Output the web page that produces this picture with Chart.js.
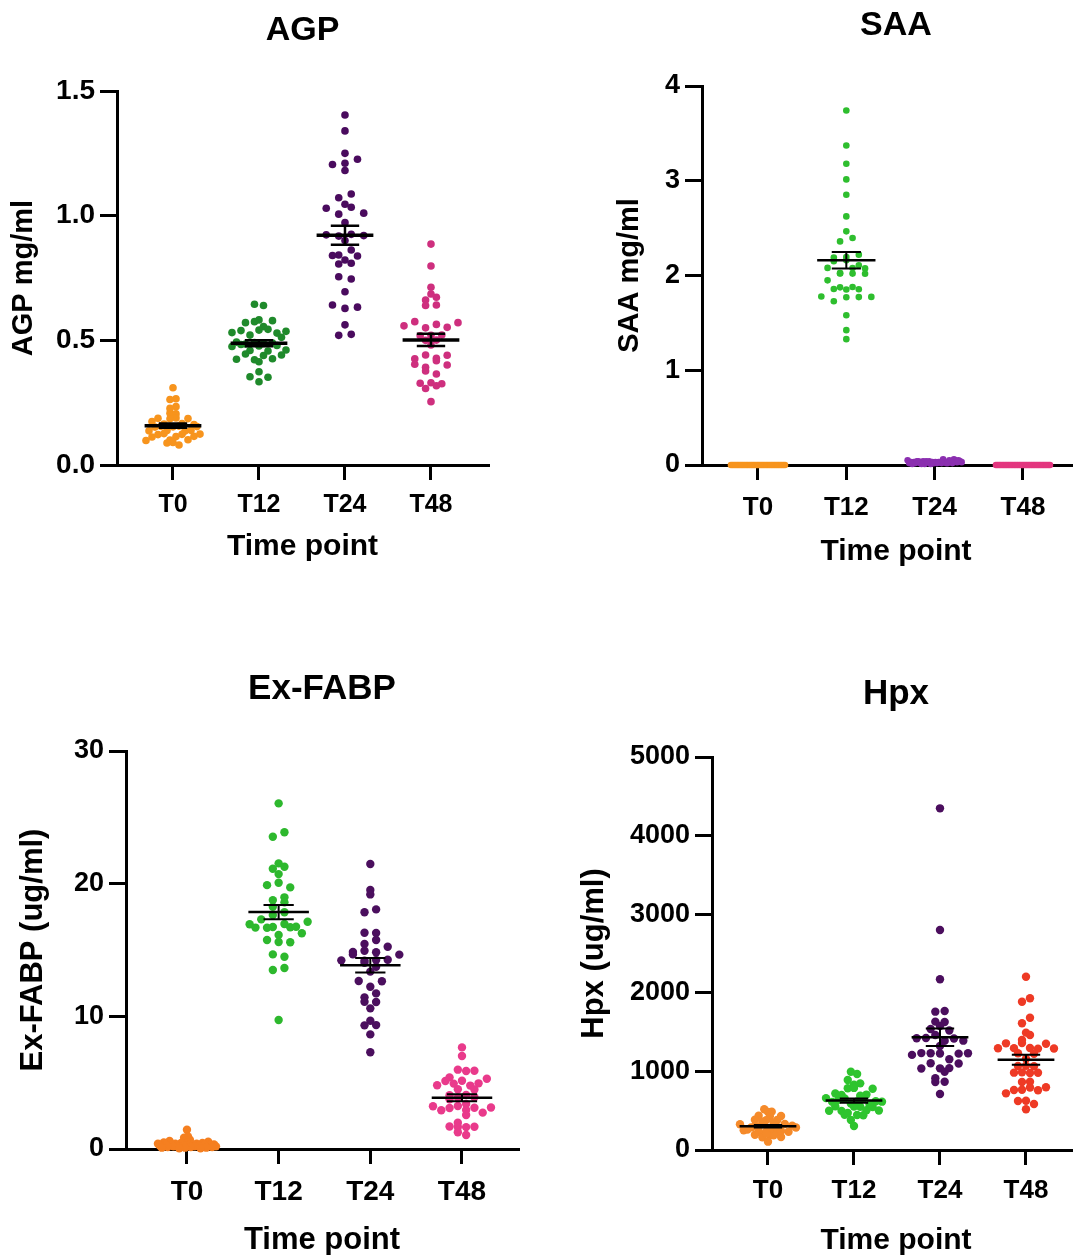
<!DOCTYPE html>
<html>
<head>
<meta charset="utf-8">
<script src="https://cdn.jsdelivr.net/npm/chart.js@4.4.1/dist/chart.umd.min.js"></script>
<style>
  html, body { margin: 0; padding: 0; background: #fff; overflow: hidden; width: 1073px; height: 1255px; }
  canvas { position: absolute; }
</style>
</head>
<body>
<canvas id="agp"></canvas>
<canvas id="saa"></canvas>
<canvas id="fabp"></canvas>
<canvas id="hpx"></canvas>
<script>
const timePoints = ['T0', 'T12', 'T24', 'T48'];

// AGP mg/ml
const agpT0 = [0.31, 0.266, 0.263, 0.234, 0.227, 0.208, 0.205, 0.189, 0.187, 0.186, 0.185, 0.174, 0.166, 0.164, 0.162,
  0.156, 0.155, 0.154, 0.153, 0.152, 0.139, 0.138, 0.137, 0.136, 0.126, 0.124, 0.123, 0.122, 0.115, 0.114, 0.112,
  0.101, 0.1, 0.098, 0.09, 0.088, 0.08];
const agpT12 = [0.645, 0.64, 0.582, 0.579, 0.575, 0.571, 0.555, 0.544, 0.539, 0.536, 0.541, 0.531, 0.529, 0.521, 0.512,
  0.491, 0.493, 0.489, 0.485, 0.483, 0.487, 0.477, 0.475, 0.479, 0.459, 0.461, 0.457, 0.445, 0.441, 0.439,
  0.424, 0.426, 0.422, 0.414, 0.374, 0.354, 0.352, 0.334];
const agpT24 = [1.404, 1.34, 1.25, 1.226, 1.21, 1.205, 1.181, 1.087, 1.072, 1.046, 1.034, 1.03, 1.01, 1.006, 0.972,
  0.925, 0.923, 0.92, 0.918, 0.9, 0.862, 0.842, 0.84, 0.838, 0.822, 0.809, 0.806, 0.755, 0.746, 0.695,
  0.642, 0.633, 0.628, 0.562, 0.524, 0.52];
const agpT48 = [0.886, 0.798, 0.713, 0.686, 0.673, 0.662, 0.642, 0.64, 0.575, 0.571, 0.564, 0.558, 0.552, 0.55, 0.521,
  0.52, 0.518, 0.501, 0.481, 0.441, 0.44, 0.428, 0.426, 0.418, 0.404, 0.401, 0.392, 0.377, 0.365, 0.33,
  0.328, 0.326, 0.318, 0.307, 0.254, 0.5];
const agpTicks = [0, 0.5, 1.0, 1.5];

// SAA mg/ml
const saaT0 = [0, 0, 0, 0, 0, 0, 0, 0, 0, 0, 0, 0, 0, 0, 0, 0, 0, 0, 0, 0, 0, 0, 0, 0, 0, 0, 0, 0, 0, 0, 0, 0, 0, 0, 0, 0];
const saaT12 = [3.741, 3.372, 3.179, 3.014, 2.852, 2.624, 2.466, 2.396, 2.36, 2.22, 2.195, 2.19, 2.16, 2.15, 2.107,
  2.079, 2.08, 2.075, 2.02, 2.022, 2.018, 2.025, 1.949, 1.879, 1.875, 1.855, 1.852, 1.858, 1.774, 1.77,
  1.778, 1.772, 1.728, 1.581, 1.423, 1.328];
const saaT24 = [0.05, 0.06, 0.04, 0.05, 0.03, 0.04, 0.06, 0.02, 0.03, 0.05, 0.04, 0.02, 0.03, 0.01, 0.04, 0.03, 0.02, 0.05,
  0.03, 0.02, 0.04, 0.01, 0.03, 0.02, 0.04, 0.03, 0.02, 0.01, 0.03, 0.02, 0.04, 0.02, 0.03, 0.01, 0.02, 0.03];
const saaT48 = [0, 0, 0, 0, 0, 0, 0, 0, 0, 0, 0, 0, 0, 0, 0, 0, 0, 0, 0, 0, 0, 0, 0, 0, 0, 0, 0, 0, 0, 0, 0, 0, 0, 0, 0, 0];
const saaTicks = [0, 1, 2, 3, 4];

// Ex-FABP ug/ml
const fabpT0 = [1.45, 0.95, 0.85, 0.7, 0.65, 0.6, 0.55, 0.5, 0.5, 0.45, 0.45, 0.4, 0.4, 0.4, 0.35, 0.35, 0.35, 0.3,
  0.3, 0.3, 0.3, 0.25, 0.25, 0.25, 0.2, 0.2, 0.2, 0.2, 0.15, 0.15, 0.15, 0.1, 0.1, 0.1, 0.05, 0.05];
const fabpT12 = [26.05, 23.87, 23.54, 21.53, 21.27, 21.12, 20.72, 20.07, 19.89, 19.72, 18.97, 18.76, 18.59, 18.26,
  17.84, 17.63, 17.31, 17.13, 16.96, 16.94, 16.71, 16.73, 16.69, 16.75, 16.68, 16.26, 16.13, 15.75, 15.58, 15.6,
  14.67, 14.49, 13.64, 13.49, 9.72];
const fabpT24 = [21.48, 19.52, 19.19, 18.06, 17.84, 16.3, 16.28, 15.75, 15.45, 15.25, 14.94, 14.85, 14.83, 14.67,
  14.65, 14.24, 14.22, 14.26, 14.2, 14.04, 13.74, 13.37, 12.66, 12.64, 12.23, 11.73, 11.43, 11.1, 11.08, 10.6,
  9.67, 9.34, 9.32, 8.64, 7.29];
const fabpT48 = [7.66, 7.01, 5.98, 5.9, 5.88, 5.4, 5.3, 5.15, 5.13, 4.95, 4.93, 4.8, 4.78, 4.5, 4.48, 4.07, 4.05, 3.9,
  3.88, 3.75, 3.39, 3.24, 3.22, 3.11, 3.09, 3.13, 2.94, 2.92, 2.74, 2.56, 1.98, 1.68, 1.66, 1.7, 1.65, 1.26, 1.06];
const fabpTicks = [0, 10, 20, 30];

// Hpx ug/ml
const hpxT0 = [518, 488, 485, 433, 430, 436, 382, 380, 385, 331, 333, 328, 289, 292, 286, 290, 288, 233, 236, 230,
  232, 191, 194, 188, 162, 165, 106, 300, 310, 270, 260, 350, 360, 250, 240, 210];
const hpxT12 = [996, 967, 891, 848, 830, 785, 780, 790, 700, 705, 657, 660, 655, 640, 615, 618, 612, 620, 551, 555,
  548, 553, 500, 505, 498, 502, 445, 448, 442, 382, 305, 580, 590, 720, 690, 470];
const hpxT24 = [4347, 2799, 2172, 1768, 1760, 1633, 1628, 1578, 1540, 1520, 1463, 1421, 1418, 1425, 1391, 1388, 1323,
  1230, 1228, 1233, 1226, 1231, 1210, 1154, 1103, 1100, 1039, 1036, 1042, 996, 912, 869, 866, 712];
const hpxT48 = [2205, 1930, 1887, 1683, 1612, 1493, 1463, 1399, 1357, 1352, 1360, 1294, 1290, 1296, 1292, 1298, 1230,
  1225, 1160, 1069, 1066, 1072, 984, 980, 988, 982, 869, 866, 798, 795, 763, 760, 766, 721, 627, 624, 585, 518];
const hpxTicks = [0, 1000, 2000, 3000, 4000, 5000];

const FONT = "'Liberation Sans', Arial, Helvetica, sans-serif";
Chart.defaults.font.family = FONT;
Chart.defaults.color = '#000';

// mean with SEM error bar, drawn on top of the dots
const meanSemPlugin = {
  id: 'meanSem',
  afterDatasetsDraw(chart, args, opts) {
    const ctx = chart.ctx;
    const xs = chart.scales.x, ys = chart.scales.y;
    ctx.save();
    ctx.strokeStyle = '#000';
    ctx.lineCap = 'butt';
    chart.data.datasets.forEach((ds, i) => {
      if (!opts.show[i]) return;
      const v = ds.values;
      const n = v.length;
      const mean = v.reduce((a, b) => a + b, 0) / n;
      const sd = Math.sqrt(v.reduce((a, b) => a + (b - mean) * (b - mean), 0) / (n - 1));
      const sem = sd / Math.sqrt(n);
      const cx = xs.getPixelForValue(i);
      const half = xs.getPixelForValue(i + 0.33) - cx;
      const cap = xs.getPixelForValue(i + 0.165) - cx;
      const ym = ys.getPixelForValue(mean);
      const yt = ys.getPixelForValue(mean + sem);
      const yb = ys.getPixelForValue(mean - sem);
      ctx.lineWidth = opts.semWidth;
      ctx.beginPath();
      ctx.moveTo(cx, yt); ctx.lineTo(cx, yb);
      ctx.moveTo(cx - cap, yt); ctx.lineTo(cx + cap, yt);
      ctx.moveTo(cx - cap, yb); ctx.lineTo(cx + cap, yb);
      ctx.stroke();
      ctx.lineWidth = opts.meanWidth;
      ctx.beginPath();
      ctx.moveTo(cx - half, ym); ctx.lineTo(cx + half, ym);
      ctx.stroke();
    });
    ctx.restore();
  }
};

// GraphPad-like scatter: bin points into rows, spread each row sideways
function spreadDots(chart, radius, maxHalf, maxStep) {
  const xs = chart.scales.x, ys = chart.scales.y;
  const unit = xs.getPixelForValue(1) - xs.getPixelForValue(0);
  const rowH = radius * 2 + 0.5;
  chart.data.datasets.forEach((ds, gi) => {
    const rows = new Map();
    ds.data.forEach((p, idx) => {
      const key = Math.round(ys.getPixelForValue(p.y) / rowH);
      if (!rows.has(key)) rows.set(key, []);
      rows.get(key).push({ p, idx });
    });
    let maxM = 1;
    rows.forEach(r => { maxM = Math.max(maxM, r.length); });
    const step = maxM > 1 ? Math.min(2 * maxHalf / (maxM - 1), maxStep) : 0;
    rows.forEach(r => {
      // interleave so a row does not slope from one side to the other
      const order = r.map((e, k) => e).sort((a, b) => ((a.idx * 7) % 11) - ((b.idx * 7) % 11) || a.idx - b.idx);
      order.forEach((e, k) => { e.p.x = gi + (k - (r.length - 1) / 2) * step / unit; });
    });
  });
  chart.update('none');
}

function makePanel(id, c) {
  const canvas = document.getElementById(id);
  canvas.width = c.w;
  canvas.height = c.h;
  canvas.style.left = c.left + 'px';
  canvas.style.top = c.top + 'px';

  const datasets = c.groups.map((vals, i) => ({
    values: vals,
    data: vals.map(v => ({ x: i, y: v })),
    backgroundColor: c.colors[i],
    pointRadius: c.r,
    pointHoverRadius: c.r,
    pointBorderWidth: 0,
    borderWidth: 0,
    clip: false
  }));

  const chart = new Chart(canvas, {
    type: 'scatter',
    data: { datasets },
    options: {
      responsive: false,
      maintainAspectRatio: false,
      animation: false,
      events: [],
      layout: { padding: c.pad },
      plugins: {
        legend: { display: false },
        tooltip: { enabled: false },
        title: {
          display: true,
          text: c.title,
          fullSize: false,
          color: '#000',
          font: { family: FONT, weight: 'bold', size: c.titleSize, lineHeight: 1.2 },
          padding: { top: c.titlePad[0], bottom: c.titlePad[1] }
        },
        meanSem: { show: c.showMean, meanWidth: c.meanWidth, semWidth: c.semWidth }
      },
      scales: {
        x: {
          type: 'linear',
          min: c.xRange[0],
          max: c.xRange[1],
          afterBuildTicks: s => { s.ticks = timePoints.map((t, i) => ({ value: i })); },
          afterFit: s => { s.height = c.xH; },
          ticks: {
            autoSkip: false,
            maxRotation: 0,
            padding: c.xTickPad,
            color: '#000',
            font: { family: FONT, weight: 'bold', size: c.xTickSize },
            callback: v => timePoints[v]
          },
          grid: { display: true, drawOnChartArea: false, drawTicks: true, tickLength: 15, color: '#000', lineWidth: 3 },
          border: { display: true, color: '#000', width: 3 },
          title: {
            display: true,
            text: 'Time point',
            color: '#000',
            font: { family: FONT, weight: 'bold', size: c.xTitleSize, lineHeight: 1.2 },
            padding: { top: 0, bottom: c.xTitlePad }
          }
        },
        y: {
          type: 'linear',
          min: c.yTicks[0],
          max: c.yTicks[c.yTicks.length - 1],
          afterBuildTicks: s => { s.ticks = c.yTicks.map(v => ({ value: v })); },
          afterFit: s => { s.width = c.yW; },
          ticks: {
            padding: 5,
            color: '#000',
            font: { family: FONT, weight: 'bold', size: c.yTickSize },
            callback: v => c.yFormat(v)
          },
          grid: { display: true, drawOnChartArea: false, drawTicks: true, tickLength: 17, color: '#000', lineWidth: 3 },
          border: { display: true, color: '#000', width: 3 },
          title: {
            display: true,
            text: c.yTitle,
            color: '#000',
            font: { family: FONT, weight: 'bold', size: c.yTitleSize, lineHeight: 1.2 },
            padding: { top: c.yTitlePad, bottom: 0 }
          }
        }
      }
    },
    plugins: [meanSemPlugin]
  });
  spreadDots(chart, c.r, c.maxHalf, c.maxStep);
  return chart;
}

makePanel('agp', {
  left: 0, top: 0, w: 540, h: 580,
  pad: { left: 0, right: 52, top: 0, bottom: 13 },
  title: 'AGP', titleSize: 34, titlePad: [10.6, 39.6],
  xRange: [-0.651, 3.663], xH: 102, xTickPad: 10, xTickSize: 25, xTitleSize: 30, xTitlePad: 2,
  yTicks: agpTicks, yFormat: v => v.toFixed(1), yW: 117, yTickSize: 28,
  yTitle: 'AGP mg/ml', yTitleSize: 29, yTitlePad: 6.6,
  groups: [agpT0, agpT12, agpT24, agpT48],
  colors: ['#F7941D', '#1F8A2B', '#4A0B5E', '#CE2F7E'],
  r: 3.8, maxHalf: 27, maxStep: 12.5,
  showMean: [true, true, true, true], meanWidth: 3.5, semWidth: 2.5
});

makePanel('saa', {
  left: 540, top: 0, w: 560, h: 580,
  pad: { left: 0, right: 10, top: 0, bottom: 10 },
  title: 'SAA', titleSize: 34, titlePad: [5.6, 39.6],
  xRange: [-0.634, 3.759], xH: 105, xTickPad: 12, xTickSize: 26, xTitleSize: 30, xTitlePad: 0,
  yTicks: saaTicks, yFormat: v => String(v), yW: 162, yTickSize: 27,
  yTitle: 'SAA mg/ml', yTitleSize: 29, yTitlePad: 72.6,
  groups: [saaT0, saaT12, saaT24, saaT48],
  colors: ['#F7941D', '#2EBE2E', '#8B2FB0', '#E3367F'],
  r: 3.3, maxHalf: 27, maxStep: 12.5,
  showMean: [false, true, false, false], meanWidth: 2.5, semWidth: 2
});

makePanel('fabp', {
  left: 0, top: 620, w: 540, h: 640,
  pad: { left: 0, right: 22, top: 0, bottom: 1 },
  title: 'Ex-FABP', titleSize: 35, titlePad: [48, 41],
  xRange: [-0.665, 3.611], xH: 110, xTickPad: 11, xTickSize: 28, xTitleSize: 31, xTitlePad: 0.4,
  yTicks: fabpTicks, yFormat: v => String(v), yW: 126, yTickSize: 27,
  yTitle: 'Ex-FABP (ug/ml)', yTitleSize: 31, yTitlePad: 14.4,
  groups: [fabpT0, fabpT12, fabpT24, fabpT48],
  colors: ['#F57F20', '#2DB82D', '#4B0F5E', '#E93A8B'],
  r: 4.2, maxHalf: 29, maxStep: 12.5,
  showMean: [false, true, true, true], meanWidth: 2.5, semWidth: 2
});

makePanel('hpx', {
  left: 545, top: 620, w: 560, h: 640,
  pad: { left: 0, right: 25, top: 0, bottom: 0 },
  title: 'Hpx', titleSize: 35, titlePad: [53, 42],
  xRange: [-0.651, 3.628], xH: 110, xTickPad: 10.4, xTickSize: 26, xTitleSize: 30, xTitlePad: 1,
  yTicks: hpxTicks, yFormat: v => String(v), yW: 167, yTickSize: 27,
  yTitle: 'Hpx (ug/ml)', yTitleSize: 31, yTitlePad: 30.4,
  groups: [hpxT0, hpxT12, hpxT24, hpxT48],
  colors: ['#F58A2A', '#2EC42E', '#4B0E5E', '#EE3A25'],
  r: 4.2, maxHalf: 28, maxStep: 12.5,
  showMean: [true, true, true, true], meanWidth: 2.5, semWidth: 2
});
</script>
</body>
</html>
